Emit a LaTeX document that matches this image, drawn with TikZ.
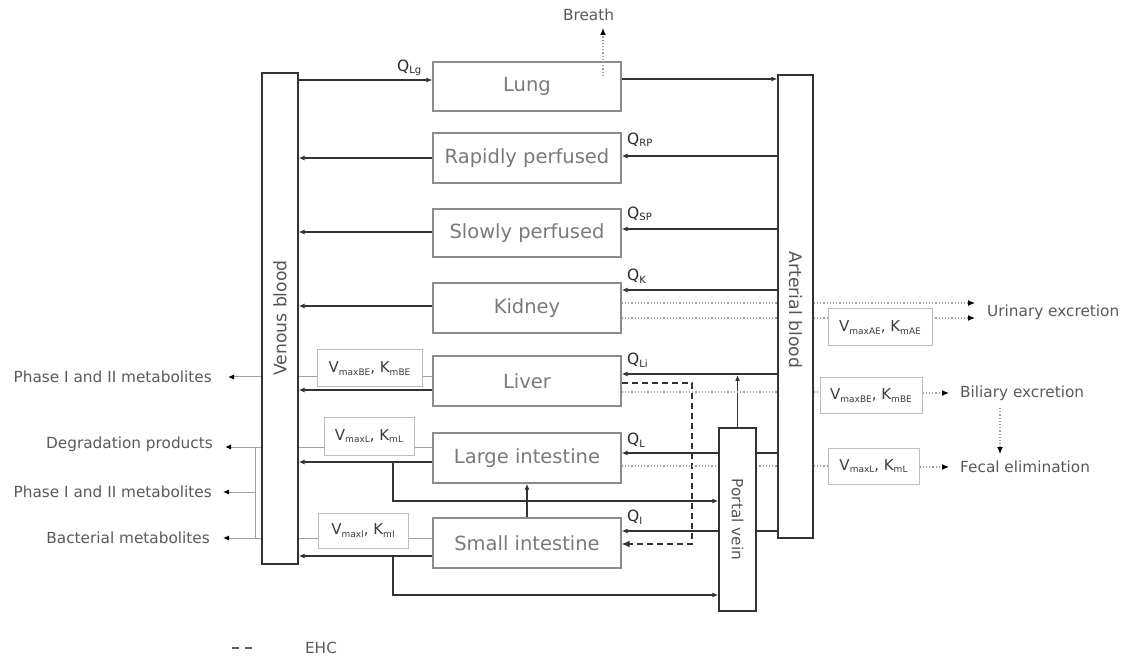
\documentclass[tikz,border=0pt]{standalone}
\usepackage{fontspec}
\setmainfont{DejaVu Sans}
\usetikzlibrary{arrows.meta,backgrounds}
\newcommand{\lsub}[2][9]{\raisebox{-2.5pt}{\fontsize{#1}{#1}\selectfont #2}}
\definecolor{darkline}{HTML}{333333}
\definecolor{orgborder}{HTML}{8C8C8C}
\definecolor{orgtext}{HTML}{7A7A7A}
\definecolor{bloodtext}{HTML}{555555}
\definecolor{vborder}{HTML}{BDBDBD}
\definecolor{vtext}{HTML}{3C3C3C}
\definecolor{lbltext}{HTML}{5A5A5A}
\definecolor{qtext}{HTML}{2A2A2A}
\definecolor{grayl}{HTML}{A0A0A0}
\definecolor{dotc}{HTML}{A0A0A0}
\tikzset{
  organ/.style={draw=orgborder, line width=1.4pt, fill=white, minimum width=188pt, minimum height=50pt, inner sep=0pt, text=orgtext, font=\fontsize{19.5}{22}\selectfont},
  blood/.style={draw=darkline, line width=1.3pt, fill=white, inner sep=0pt},
  bloodlbl/.style={text=bloodtext, inner sep=0pt, font=\fontsize{17.2}{20}\selectfont},
  vbox/.style={draw=vborder, line width=1pt, fill=white, inner sep=0pt, text=vtext, font=\fontsize{15}{17}\selectfont},
  lbl/.style={text=lbltext, font=\fontsize{15.3}{18}\selectfont, inner sep=0pt},
  qlbl/.style={text=qtext, font=\fontsize{15.5}{18}\selectfont, inner sep=0pt, anchor=west},
  flow/.style={draw=darkline, line width=1.2pt, -{Latex[length=6pt,width=5pt]}},
  flowline/.style={draw=darkline, line width=1.2pt},
  ehcline/.style={draw=darkline, line width=1.2pt, dash pattern=on 6pt off 4pt},
  ehcflow/.style={ehcline, -{Latex[length=8pt,width=7pt]}},
  legdash/.style={draw=darkline!80, line width=1.2pt, dash pattern=on 7pt off 6pt},
  grayline/.style={draw=grayl, line width=1pt},
  grayflow/.style={grayline, -{Latex[length=6pt,width=5pt,color=black]}},
  dotl/.style={draw=dotc, line width=1.2pt, dotted},
  dotflow/.style={dotl, -{Latex[length=7pt,width=6pt,color=black]}}
}
\begin{document}
\begin{tikzpicture}[x=1pt,y=-1pt]
\useasboundingbox (0,0) rectangle (1125,660);

% organ boxes
\node[organ, minimum height=49pt] (lung) at (527,86.5) {Lung};
\node[organ] (rp) at (527,158) {Rapidly perfused};
\node[organ, minimum height=48pt] (sp) at (527,233) {Slowly perfused};
\node[organ] (kid) at (527,308) {Kidney};
\node[organ] (liv) at (527,381) {Liver};
\node[organ] (li) at (527,458) {Large intestine};
\node[organ] (si) at (527,543) {Small intestine};

% blood compartments
\node[blood, minimum width=36pt, minimum height=491pt] (ven) at (280,318.5) {};
\node[bloodlbl, rotate=90] (venl) at (280,318) {Venous blood};
\node[blood, minimum width=35pt, minimum height=463pt] (art) at (795.5,306.5) {};
\node[bloodlbl, rotate=-90] (artl) at (795.5,310) {Arterial blood};
\node[blood, minimum width=37pt, minimum height=183pt] (pv) at (737.5,519.5) {};
\node[bloodlbl, rotate=-90, font=\fontsize{15.3}{18}\selectfont] (pvl) at (737.5,519.5) {Portal vein};

% metabolism boxes
\node[vbox, minimum width=105pt, minimum height=37pt] (vbeL) at (369.5,368.5) {V\lsub{maxBE}, K\lsub{mBE}};
\node[vbox, minimum width=90pt, minimum height=38pt] (vlL) at (369,436) {V\lsub{maxL}, K\lsub{mL}};
\node[vbox, minimum width=90pt, minimum height=35pt] (viL) at (363,530.5) {V\lsub{maxI}, K\lsub{mI}};
\node[vbox, minimum width=104pt, minimum height=37pt] (vae) at (880,327.5) {V\lsub{maxAE}, K\lsub{mAE}};
\node[vbox, minimum width=102pt, minimum height=35pt] (vbeR) at (871,395.5) {V\lsub{maxBE}, K\lsub{mBE}};
\node[vbox, minimum width=91pt, minimum height=36pt] (vlR) at (873.5,466) {V\lsub{maxL}, K\lsub{mL}};

% labels
\node[lbl] (br) at (588.5,15) {Breath};
\node[lbl, anchor=west] (uri) at (987,312) {Urinary excretion};
\node[lbl, anchor=west] (bil) at (960,393) {Biliary excretion};
\node[lbl, anchor=west] (fec) at (960,467) {Fecal elimination};
\node[lbl, anchor=east] (ph1) at (212,377) {Phase I and II metabolites};
\node[lbl, anchor=east] (deg) at (213,444) {Degradation products};
\node[lbl, anchor=east] (ph2) at (212,492) {Phase I and II metabolites};
\node[lbl, anchor=east] (bac) at (210,538) {Bacterial metabolites};
\node[lbl] (ehcl) at (321,648) {EHC};

% flow labels
\node[qlbl] (qlg) at (397,68) {Q\lsub[10]{Lg}};
\node[qlbl] (qrp) at (627,140) {Q\lsub[10]{RP}};
\node[qlbl] (qsp) at (627,214) {Q\lsub[10]{SP}};
\node[qlbl] (qk) at (627,276) {Q\lsub[10]{K}};
\node[qlbl] (qli) at (627,360) {Q\lsub[10]{Li}};
\node[qlbl] (ql) at (627,440) {Q\lsub[10]{L}};
\node[qlbl] (qi) at (627,517) {Q\lsub[10]{I}};

% free end points
\coordinate (brs) at (603,76);
\coordinate (brt) at (603,28);
\coordinate (u1) at (975,303);
\coordinate (u2) at (975,318);
\coordinate (b1) at (949,393);
\coordinate (f1) at (949,467);
\coordinate (bf1) at (1000,408);
\coordinate (bf2) at (1000,454);
\coordinate (a1) at (228,377);
\coordinate (a2) at (225,447);
\coordinate (a3) at (223,492);
\coordinate (a4) at (223,538);
\coordinate (k1) at (255,447);
\coordinate (k2) at (255,492);
\coordinate (k3) at (255,538);
\coordinate (bl) at (393,462);
\coordinate (bs) at (393,556);
\coordinate (ehcA) at (692,383);
\coordinate (ehcB) at (692,544);
\coordinate (e1) at (232,648);
\coordinate (e2) at (252,648);

\begin{pgfonlayer}{background}
\fill[white] (0,0) rectangle (1125,660);
% blood flows
\draw[flow] (ven.east |- 0,80) -- (lung.west |- 0,80);
\draw[flow] (lung.east |- 0,79) -- (art.west |- 0,79);
\draw[flow] (art.west |- 0,156) -- (rp.east |- 0,156);
\draw[flow] (rp.west |- 0,158) -- (ven.east |- 0,158);
\draw[flow] (art.west |- 0,229) -- (sp.east |- 0,229);
\draw[flow] (sp.west |- 0,232) -- (ven.east |- 0,232);
\draw[flow] (art.west |- 0,290) -- (kid.east |- 0,290);
\draw[flow] (kid.west |- 0,306) -- (ven.east |- 0,306);
\draw[flow] (art.west |- 0,374) -- (liv.east |- 0,374);
\draw[flow] (liv.west |- 0,390) -- (ven.east |- 0,390);
\draw[flow] (pv.north) -- (pv.north |- 0,375);
\draw[flow] (art.west |- 0,453) -- (li.east |- 0,453);
\draw[flow] (li.west |- 0,462) -- (ven.east |- 0,462);
\draw[flow] (bl) |- (pv.west |- 0,501);
\draw[flow] (si.north) -- (li.south);
\draw[flow] (art.west |- 0,531) -- (si.east |- 0,531);
\draw[flow] (si.west |- 0,556) -- (ven.east |- 0,556);
\draw[flow] (bs) |- (pv.west |- 0,595);
% enterohepatic circulation
\draw[ehcflow] (liv.east |- ehcA) -- (ehcA) -- (ehcB) -- (si.east |- ehcB);
% excretion (dotted)
\draw[dotflow] (kid.east |- u1) -- (u1);
\draw[dotflow] (kid.east |- u2) -- (u2);
\draw[dotl] (liv.east |- 0,392) -- (vbeR.west |- 0,392);
\draw[dotflow] (vbeR.east |- b1) -- (b1);
\draw[dotl] (li.east |- 0,466) -- (vlR.west |- 0,466);
\draw[dotflow] (vlR.east |- f1) -- (f1);
\draw[dotflow] (bf1) -- (bf2);
% metabolites (gray)
\draw[grayflow] (liv.west |- a1) -- (a1);
\draw[grayflow] (li.west |- a2) -- (a2);
\draw[grayflow] (si.west |- a4) -- (a4);
\draw[grayline] (k1) -- (k3);
\draw[grayflow] (k2) -- (a3);
\end{pgfonlayer}

% breath
\draw[dotflow] (brs) -- (brt);
% legend
\draw[legdash] (e1) -- (e2);
\end{tikzpicture}
\end{document}
